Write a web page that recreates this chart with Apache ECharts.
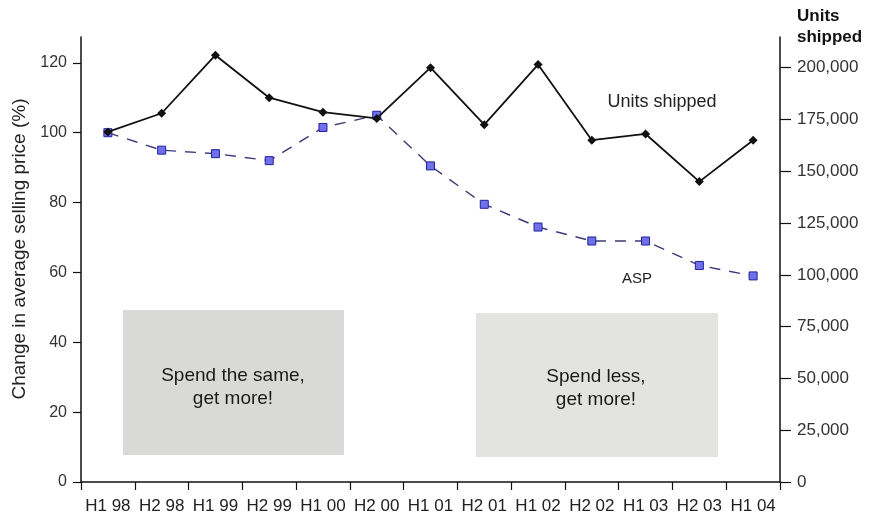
<!DOCTYPE html>
<html>
<head>
<meta charset="utf-8">
<script src="https://cdn.jsdelivr.net/npm/echarts@6/dist/echarts.min.js"></script>
<style>
  html, body { margin: 0; padding: 0; background: #fff; }
  #chart { width: 870px; height: 517px; }
</style>
</head>
<body>
<div id="chart"></div>
<script>
// Half-year periods
const categories = ['H1 98', 'H2 98', 'H1 99', 'H2 99', 'H1 00', 'H2 00', 'H1 01',
                    'H2 01', 'H1 02', 'H2 02', 'H1 03', 'H2 03', 'H1 04'];
// Average selling price, indexed to H1 98 = 100
const aspIndex = [100, 95, 94, 92, 101.5, 105, 90.5, 79.5, 73, 69, 69, 62, 59];
// Units shipped per half-year
const unitsShipped = [169000, 178000, 206000, 185500, 178500, 175500, 200000,
                      172500, 201500, 165000, 168000, 145000, 165000];
// Tick values for the two value axes
const leftTicks = [0, 20, 40, 60, 80, 100, 120];
const rightTicks = [0, 25000, 50000, 75000, 100000, 125000, 150000, 175000, 200000];

const FONT = '"Liberation Sans", Arial, Helvetica, sans-serif';
const chart = echarts.init(document.getElementById('chart'), null, { renderer: 'canvas' });

const axisLine = { show: true, lineStyle: { color: '#111', width: 1.5 } };

chart.setOption({
  animation: false,
  backgroundColor: '#ffffff',
  textStyle: { fontFamily: FONT },
  grid: { left: 81, right: 90, top: 37, bottom: 35, containLabel: false },
  xAxis: {
    type: 'category',
    data: categories,
    boundaryGap: true,
    axisLine: axisLine,
    axisTick: { show: true, inside: false, length: 8, lineStyle: { color: '#111', width: 1.2 } },
    axisLabel: { interval: 0, color: '#222', fontSize: 17, fontFamily: FONT, margin: 16 },
    splitLine: { show: false }
  },
  yAxis: [
    {
      type: 'value',
      position: 'left',
      min: 0,
      max: 127.4,
      axisLine: axisLine,
      axisTick: { show: true, inside: false, length: 8, customValues: leftTicks, lineStyle: { color: '#111', width: 1.2 } },
      axisLabel: { customValues: leftTicks, color: '#333', fontSize: 16, fontFamily: FONT, margin: 14 },
      splitLine: { show: false }
    },
    {
      type: 'value',
      position: 'right',
      min: 0,
      max: 214800,
      axisLine: axisLine,
      axisTick: { show: true, inside: false, length: 11, customValues: rightTicks, lineStyle: { color: '#111', width: 1.2 } },
      axisLabel: {
        customValues: rightTicks, color: '#333', fontSize: 17, fontFamily: FONT, margin: 17,
        formatter: v => v.toLocaleString('en-US')
      },
      splitLine: { show: false }
    }
  ],
  graphic: [
    // Left axis title
    { type: 'text', z: 5, x: 20, y: 249, rotation: Math.PI / 2,
      style: { text: 'Change in average selling price (%)', fill: '#222', font: '19px ' + FONT, textAlign: 'center', textVerticalAlign: 'middle' } },
    // Shaded callout panels
    { type: 'rect', z: 0, shape: { x: 123, y: 310, width: 221, height: 145 }, style: { fill: '#d9d9d8' } },
    { type: 'rect', z: 0, shape: { x: 476, y: 313, width: 242, height: 144 }, style: { fill: '#e3e3e1' } },
    { type: 'text', z: 1, x: 233, y: 387, style: { text: 'Spend the same,\nget more!', fill: '#1a1a1a', font: '19px ' + FONT, textAlign: 'center', textVerticalAlign: 'middle', lineHeight: 23 } },
    { type: 'text', z: 1, x: 596, y: 388, style: { text: 'Spend less,\nget more!', fill: '#1a1a1a', font: '19px ' + FONT, textAlign: 'center', textVerticalAlign: 'middle', lineHeight: 23 } },
    // Series captions
    { type: 'text', z: 5, x: 662, y: 102, style: { text: 'Units shipped', fill: '#222', font: '18px ' + FONT, textAlign: 'center', textVerticalAlign: 'middle' } },
    { type: 'text', z: 5, x: 637, y: 279, style: { text: 'ASP', fill: '#222', font: '15px ' + FONT, textAlign: 'center', textVerticalAlign: 'middle' } },
    // Right axis title
    { type: 'text', z: 5, x: 797, y: 27, style: { text: 'Units\nshipped', fill: '#111', font: 'bold 17px ' + FONT, textAlign: 'left', textVerticalAlign: 'middle', lineHeight: 21 } }
  ],
  series: [
    {
      name: 'ASP',
      type: 'line',
      yAxisIndex: 0,
      data: aspIndex,
      symbol: 'rect',
      symbolSize: 8,
      showAllSymbol: true,
      lineStyle: { color: '#3a3a78', width: 1.4, type: [11, 9] },
      itemStyle: { color: '#7070ea', borderColor: '#20209a', borderWidth: 1 },
      z: 3
    },
    {
      name: 'Units shipped',
      type: 'line',
      yAxisIndex: 1,
      data: unitsShipped,
      symbol: 'diamond',
      symbolSize: 9,
      showAllSymbol: true,
      lineStyle: { color: '#111', width: 1.8 },
      itemStyle: { color: '#111' },
      z: 4
    }
  ]
});
</script>
</body>
</html>
